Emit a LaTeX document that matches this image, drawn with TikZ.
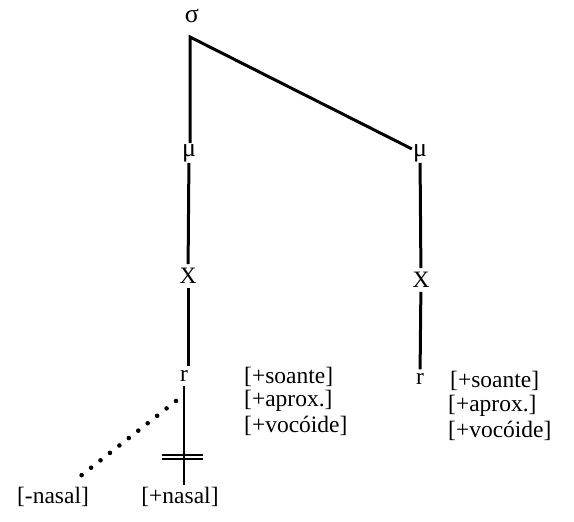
\documentclass[tikz,border=0pt]{standalone}
\usepackage{fontspec}
\setmainfont{Liberation Serif}
\usetikzlibrary{positioning}

\begin{document}
\begin{tikzpicture}[
    x=1pt, y=-1pt,
    lbl/.style={font=\fontsize{23.5}{27}\selectfont, inner sep=2pt},
    greek/.style={font=\fontsize{26}{29}\selectfont, inner sep=1pt},
    feat/.style={font=\fontsize{23.5}{27}\selectfont, anchor=west, inner sep=0pt},
    ln/.style={line width=3pt},
    dotln/.style={line width=4.6pt, line cap=round, dash pattern=on 0pt off 12pt}
]
    \useasboundingbox (0,0) rectangle (574,522);

    % syllable and moras
    \node[greek, inner sep=0pt] (sigma) at (192,16) {σ};
    \coordinate (top) at (190,37);
    \node[greek] (mu1) at (189,153) {μ};
    \node[greek] (mu2) at (420,153) {μ};

    % timing slots
    \node[lbl, inner sep=4pt] (x1) at (188,276) {X};
    \node[lbl, inner sep=4pt] (x2) at (421,280) {X};

    % segments
    \node[lbl, inner sep=4pt] (r1) at (184,376) {r};
    \node[lbl, inner sep=4pt] (r2) at (420,379) {r};

    % features
    \node[feat] (f1a) at (244,377) {[+soante]};
    \node[feat] (f1b) at (244,401) {[+aprox.]};
    \node[feat] (f1c) at (244,426) {[+vocóide]};
    \node[feat] (f2a) at (450,381) {[+soante]};
    \node[feat] (f2b) at (448,406) {[+aprox.]};
    \node[feat] (f2c) at (448,431) {[+vocóide]};

    \node[lbl] (mnasal) at (53,497) {[-nasal]};
    \node[lbl] (pnasal) at (180,497) {[+nasal]};

    % Links
    \draw[ln] (top |- mu1.north) -- (top) -- (mu2);
    \draw[ln] (mu1) -- (x1);
    \draw[ln] (mu2) -- (x2);
    \draw[ln] (x1) -- (x1 |- r1.north);
    \draw[ln] (x2) -- (r2);

    % delinking
    \draw[ln, line width=2.4pt] (r1.south) -- (r1.south |- pnasal.north);
    \coordinate (cut) at (183,457);
    \draw[line width=1.8pt] ([xshift=-21pt, yshift=-2.3pt]cut) -- ([xshift=20pt, yshift=-2.3pt]cut);
    \draw[line width=1.8pt] ([xshift=-21pt, yshift=2.3pt]cut) -- ([xshift=20pt, yshift=2.3pt]cut);

    % spreading
    \coordinate (dotA) at (176,401);
    \coordinate (dotB) at (78,478);
    \draw[dotln] (dotA) -- (dotB);
\end{tikzpicture}
\end{document}
